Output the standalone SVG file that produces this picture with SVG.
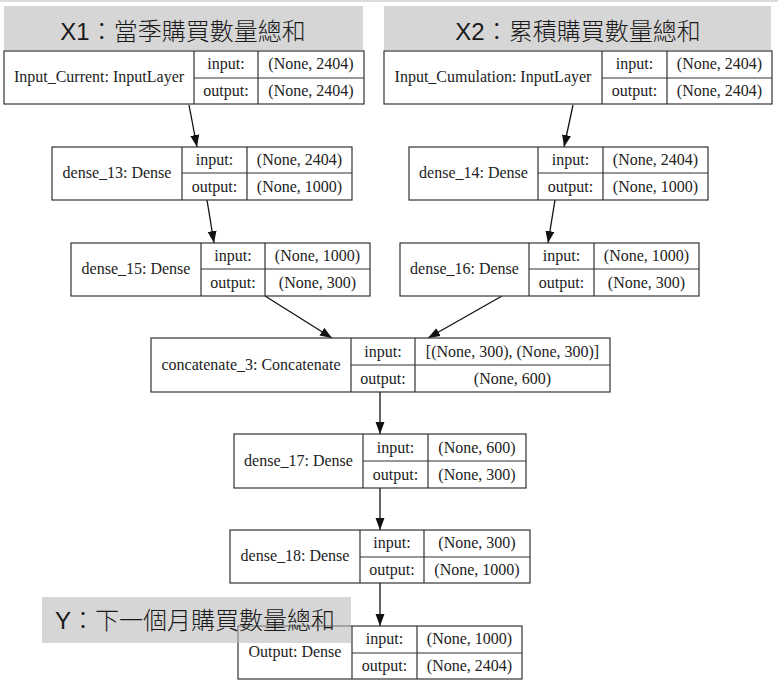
<svg xmlns="http://www.w3.org/2000/svg" width="778" height="687" viewBox="0 0 778 687">
<style>
.bx{fill:#fff;stroke:#333;stroke-width:1.2}
.ln{stroke:#333;stroke-width:1.2;fill:none}
.t{font-family:"Liberation Serif","Times New Roman",serif;font-size:16px;fill:#222;text-anchor:middle}
.title{fill:#d6d6d6}
.tt{font-family:"Liberation Sans","Noto Sans CJK TC",sans-serif;font-size:24px;font-weight:300;fill:#1a1a1a;text-anchor:middle}
.ed{stroke:#111;stroke-width:1.3;fill:none;marker-end:url(#ah)}
</style>
<defs>
<marker id="ah" markerUnits="userSpaceOnUse" markerWidth="12" markerHeight="10" refX="12" refY="5" orient="auto">
<path d="M0,0.5 L12,5 L0,9.5 Z" fill="#111"/>
</marker>
</defs>
<rect width="778" height="687" fill="#fff"/>
<rect x="0" y="0" width="778" height="2" fill="#dcdcdc"/>

<g id="title-x1"><rect class="title" x="4" y="6" width="359" height="44"/><text class="tt" x="183" y="40">X1：當季購買數量總和</text></g>
<g id="title-x2"><rect class="title" x="384" y="6" width="387" height="44"/><text class="tt" x="578" y="40">X2：累積購買數量總和</text></g>

<g id="connectors">
<line class="ed" x1="189" y1="105" x2="197" y2="147"/>
<line class="ed" x1="573" y1="105" x2="564" y2="147"/>
<line class="ed" x1="207" y1="200" x2="214" y2="243"/>
<line class="ed" x1="555" y1="200" x2="548" y2="243"/>
<line class="ed" x1="265" y1="296" x2="332" y2="338"/>
<line class="ed" x1="502" y1="296" x2="428" y2="338"/>
<line class="ed" x1="380" y1="392" x2="380" y2="434"/>
<line class="ed" x1="380" y1="488" x2="380" y2="530"/>
<line class="ed" x1="380" y1="583" x2="380" y2="626"/>
</g>

<g id="input_current">
<rect class="bx" x="4" y="51" width="360" height="53"/>
<path class="ln" d="M194,51V104M258,51V104M194,78H364"/>
<text class="t" x="99" y="82">Input_Current: InputLayer</text>
<text class="t" x="226" y="69">input:</text><text class="t" x="311" y="69">(None, 2404)</text>
<text class="t" x="226" y="96">output:</text><text class="t" x="311" y="96">(None, 2404)</text>
</g>

<g id="input_cumulation">
<rect class="bx" x="384" y="51" width="388" height="53"/>
<path class="ln" d="M602,51V104M667,51V104M602,78H772"/>
<text class="t" x="493" y="82">Input_Cumulation: InputLayer</text>
<text class="t" x="634.5" y="69">input:</text><text class="t" x="719.5" y="69">(None, 2404)</text>
<text class="t" x="634.5" y="96">output:</text><text class="t" x="719.5" y="96">(None, 2404)</text>
</g>

<g id="dense_13">
<rect class="bx" x="52" y="147" width="300" height="53"/>
<path class="ln" d="M182,147V200M247,147V200M182,173H352"/>
<text class="t" x="117" y="178">dense_13: Dense</text>
<text class="t" x="214.5" y="165">input:</text><text class="t" x="299.5" y="165">(None, 2404)</text>
<text class="t" x="214.5" y="192">output:</text><text class="t" x="299.5" y="192">(None, 1000)</text>
</g>

<g id="dense_14">
<rect class="bx" x="409" y="147" width="299" height="53"/>
<path class="ln" d="M538,147V200M603,147V200M538,173H708"/>
<text class="t" x="473.5" y="178">dense_14: Dense</text>
<text class="t" x="570.5" y="165">input:</text><text class="t" x="655.5" y="165">(None, 2404)</text>
<text class="t" x="570.5" y="192">output:</text><text class="t" x="655.5" y="192">(None, 1000)</text>
</g>

<g id="dense_15">
<rect class="bx" x="71" y="243" width="299" height="53"/>
<path class="ln" d="M201,243V296M265,243V296M201,269H370"/>
<text class="t" x="136" y="274">dense_15: Dense</text>
<text class="t" x="233" y="261">input:</text><text class="t" x="317.5" y="261">(None, 1000)</text>
<text class="t" x="233" y="288">output:</text><text class="t" x="317.5" y="288">(None, 300)</text>
</g>

<g id="dense_16">
<rect class="bx" x="400" y="243" width="299" height="53"/>
<path class="ln" d="M529,243V296M594,243V296M529,269H699"/>
<text class="t" x="464.5" y="274">dense_16: Dense</text>
<text class="t" x="561.5" y="261">input:</text><text class="t" x="646.5" y="261">(None, 1000)</text>
<text class="t" x="561.5" y="288">output:</text><text class="t" x="646.5" y="288">(None, 300)</text>
</g>

<g id="concatenate_3">
<rect class="bx" x="151" y="338" width="459" height="54"/>
<path class="ln" d="M351,338V392M415,338V392M351,365H610"/>
<text class="t" x="251" y="370">concatenate_3: Concatenate</text>
<text class="t" x="383" y="357">input:</text><text class="t" x="512.5" y="357">[(None, 300), (None, 300)]</text>
<text class="t" x="383" y="384">output:</text><text class="t" x="512.5" y="384">(None, 600)</text>
</g>

<g id="dense_17">
<rect class="bx" x="234" y="434" width="292" height="54"/>
<path class="ln" d="M363,434V488M428,434V488M363,461H526"/>
<text class="t" x="298.5" y="466">dense_17: Dense</text>
<text class="t" x="395.5" y="453">input:</text><text class="t" x="477" y="453">(None, 600)</text>
<text class="t" x="395.5" y="480">output:</text><text class="t" x="477" y="480">(None, 300)</text>
</g>

<g id="dense_18">
<rect class="bx" x="230" y="530" width="300" height="53"/>
<path class="ln" d="M360,530V583M424,530V583M360,557H530"/>
<text class="t" x="295" y="561">dense_18: Dense</text>
<text class="t" x="392" y="548">input:</text><text class="t" x="477" y="548">(None, 300)</text>
<text class="t" x="392" y="575">output:</text><text class="t" x="477" y="575">(None, 1000)</text>
</g>

<g id="output">
<rect class="bx" x="238" y="626" width="284" height="53"/>
<path class="ln" d="M352,626V679M417,626V679M352,653H522"/>
<text class="t" x="295" y="657">Output: Dense</text>
<text class="t" x="384.5" y="644">input:</text><text class="t" x="469.5" y="644">(None, 1000)</text>
<text class="t" x="384.5" y="671">output:</text><text class="t" x="469.5" y="671">(None, 2404)</text>
</g>

<g id="title-y"><rect x="42" y="597" width="309" height="46" fill="#b8b8b8" fill-opacity="0.58"/><text class="tt" x="195" y="629">Y：下一個月購買數量總和</text></g>
</svg>
